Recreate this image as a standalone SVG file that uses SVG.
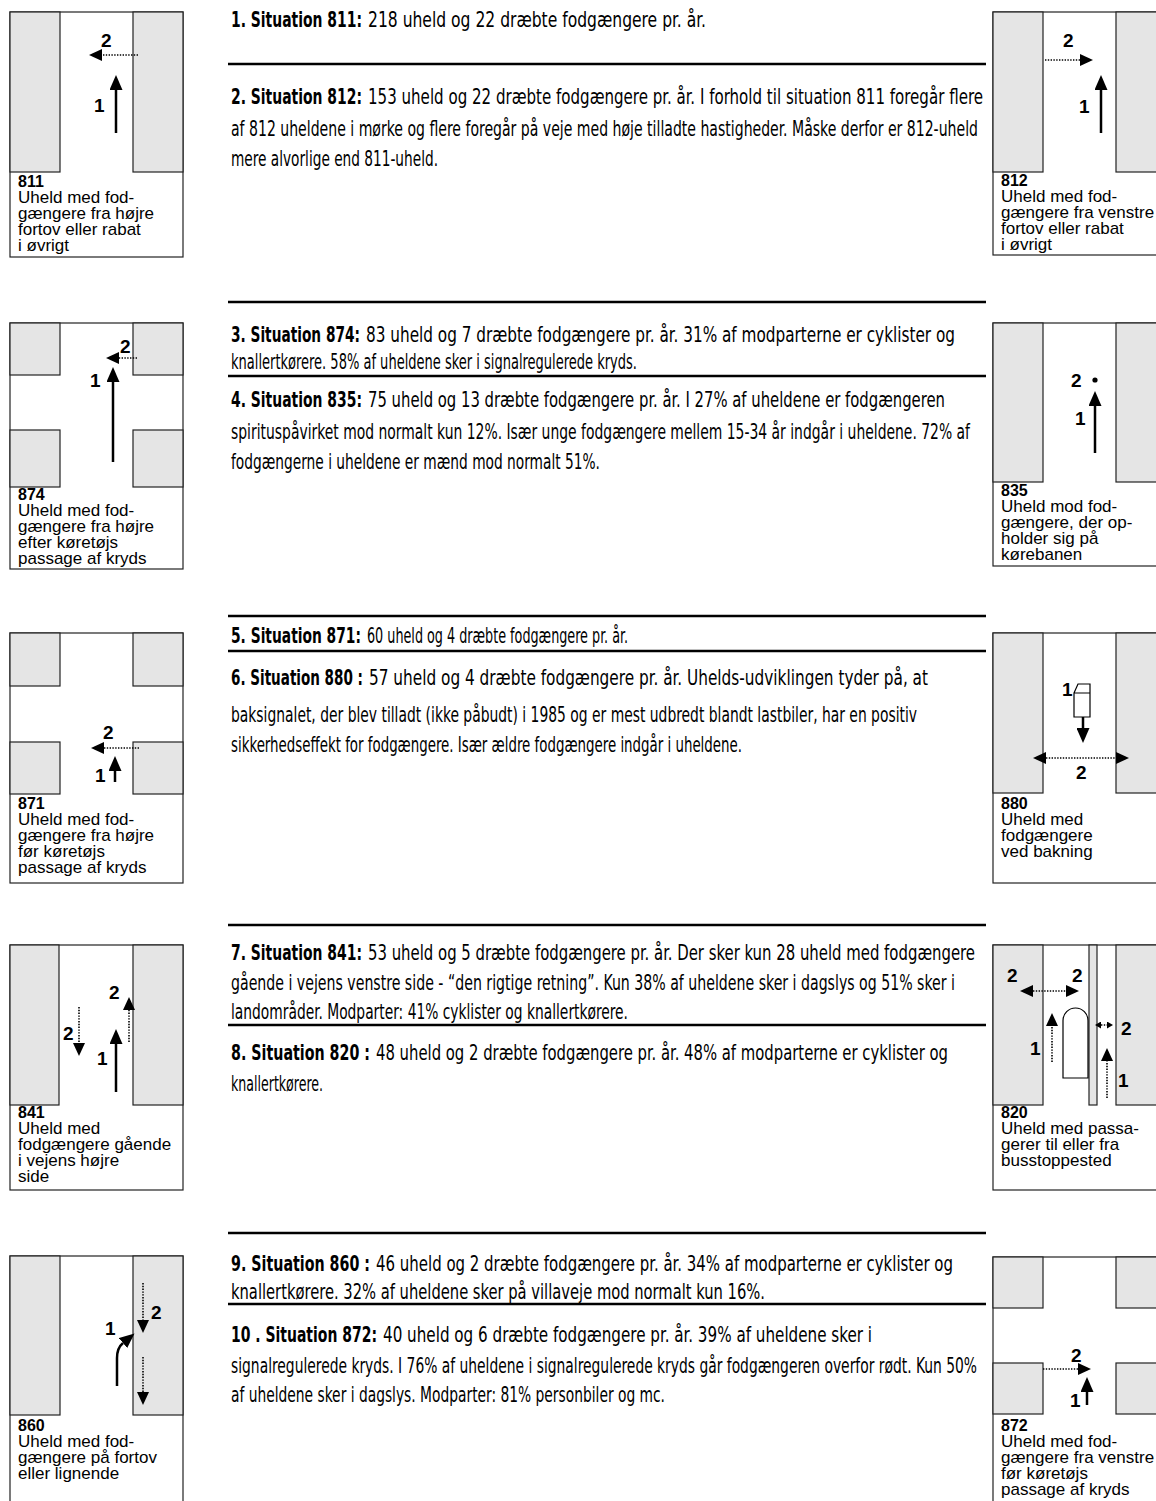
<svg xmlns="http://www.w3.org/2000/svg" width="1156" height="1501" viewBox="0 0 1156 1501">
<style>
.bg{fill:#fff}
.box{fill:#fff;stroke:#222;stroke-width:1.2}
.g{fill:#e5e5e5;stroke:#222;stroke-width:1.2}
.lbl{font-family:"Liberation Sans",Arial,Helvetica,sans-serif;font-size:17px;fill:#000}
.num{font-weight:bold;font-size:16px}
.al{font-family:"Liberation Sans",Arial,Helvetica,sans-serif;font-weight:bold;font-size:19px;fill:#000}
.sol{stroke:#000;stroke-width:2.5;fill:none}
.dot{stroke:#000;stroke-width:1.6;stroke-dasharray:1.4 1.4;fill:none}
.sep{stroke:#000;stroke-width:2.5}
.bt{font-family:"Liberation Sans Narrow","DejaVu Sans Condensed","Liberation Sans",sans-serif;font-size:21px;fill:#000}
.bh{font-weight:bold}
</style>
<defs>
<marker id="hs" markerUnits="userSpaceOnUse" viewBox="0 0 15 13" markerWidth="15" markerHeight="13" refX="0" refY="6.5" orient="auto"><path d="M0,0 L15,6.5 L0,13 Z" fill="#000"/></marker>
<marker id="hd" markerUnits="userSpaceOnUse" viewBox="0 0 13 12" markerWidth="13" markerHeight="12" refX="0" refY="6" orient="auto"><path d="M0,0 L13,6 L0,12 Z" fill="#000"/></marker>
<marker id="hdr" markerUnits="userSpaceOnUse" viewBox="0 0 13 12" markerWidth="13" markerHeight="12" refX="0" refY="6" orient="auto-start-reverse"><path d="M0,0 L13,6 L0,12 Z" fill="#000"/></marker>
<marker id="hsm" markerUnits="userSpaceOnUse" viewBox="0 0 6 7" markerWidth="6" markerHeight="7" refX="0" refY="3.5" orient="auto-start-reverse"><path d="M0,0 L6,3.5 L0,7 Z" fill="#000"/></marker>
</defs>
<rect class="bg" x="0" y="0" width="1156" height="1501"/>

<!-- Left panels -->
<g id="p811">
<rect class="box" x="10" y="12" width="173" height="245"/>
<rect class="g" x="10" y="12" width="50" height="160"/>
<rect class="g" x="133" y="12" width="50" height="160"/>
<path class="sol" d="M116,133 V90" marker-end="url(#hs)"/>
<path class="dot" d="M138,55 H102" marker-end="url(#hd)"/>
<text class="al" x="94" y="112">1</text>
<text class="al" x="101" y="47">2</text>
<text class="lbl"><tspan class="num" x="18" y="187">811</tspan><tspan x="18" y="203">Uheld med fod-</tspan><tspan x="18" y="219">gængere fra højre</tspan><tspan x="18" y="235">fortov eller rabat</tspan><tspan x="18" y="251">i øvrigt</tspan></text>
</g>

<g id="p874">
<rect class="box" x="10" y="323" width="173" height="246"/>
<rect class="g" x="10" y="323" width="50" height="52"/>
<rect class="g" x="133" y="323" width="50" height="52"/>
<rect class="g" x="10" y="430" width="50" height="57"/>
<rect class="g" x="133" y="430" width="50" height="57"/>
<path class="sol" d="M113,462 V382" marker-end="url(#hs)"/>
<path class="dot" d="M137,358 H119" marker-end="url(#hd)"/>
<text class="al" x="90" y="387">1</text>
<text class="al" x="120" y="353">2</text>
<text class="lbl"><tspan class="num" x="18" y="500">874</tspan><tspan x="18" y="516">Uheld med fod-</tspan><tspan x="18" y="532">gængere fra højre</tspan><tspan x="18" y="548">efter køretøjs</tspan><tspan x="18" y="564">passage af kryds</tspan></text>
</g>

<g id="p871">
<rect class="box" x="10" y="633" width="173" height="250"/>
<rect class="g" x="10" y="633" width="50" height="53"/>
<rect class="g" x="133" y="633" width="50" height="53"/>
<rect class="g" x="10" y="742" width="50" height="52"/>
<rect class="g" x="133" y="742" width="50" height="52"/>
<path class="sol" d="M115,782 V771" marker-end="url(#hs)"/>
<path class="dot" d="M139,748 H104" marker-end="url(#hd)"/>
<text class="al" x="95" y="782">1</text>
<text class="al" x="103" y="739">2</text>
<text class="lbl"><tspan class="num" x="18" y="809">871</tspan><tspan x="18" y="825">Uheld med fod-</tspan><tspan x="18" y="841">gængere fra højre</tspan><tspan x="18" y="857">før køretøjs</tspan><tspan x="18" y="873">passage af kryds</tspan></text>
</g>

<g id="p841">
<rect class="box" x="10" y="945" width="173" height="245"/>
<rect class="g" x="10" y="945" width="49" height="160"/>
<rect class="g" x="133" y="945" width="50" height="160"/>
<path class="sol" d="M116,1092 V1044" marker-end="url(#hs)"/>
<path class="dot" d="M79,1007 V1043" marker-end="url(#hd)"/>
<path class="dot" d="M129,1042 V1010" marker-end="url(#hd)"/>
<text class="al" x="97" y="1065">1</text>
<text class="al" x="63" y="1040">2</text>
<text class="al" x="109" y="999">2</text>
<text class="lbl"><tspan class="num" x="18" y="1118">841</tspan><tspan x="18" y="1134">Uheld med</tspan><tspan x="18" y="1150">fodgængere gående</tspan><tspan x="18" y="1166">i vejens højre</tspan><tspan x="18" y="1182">side</tspan></text>
</g>

<g id="p860">
<rect class="box" x="10" y="1256" width="173" height="260"/>
<rect class="g" x="10" y="1256" width="50" height="159"/>
<rect class="g" x="133" y="1256" width="50" height="159"/>
<path class="sol" d="M117,1386 V1358 Q117,1348 123,1343" marker-end="url(#hs)"/>
<path class="dot" d="M143,1283 V1320" marker-end="url(#hd)"/>
<path class="dot" d="M143,1357 V1392" marker-end="url(#hd)"/>
<text class="al" x="105" y="1335">1</text>
<text class="al" x="151" y="1319">2</text>
<text class="lbl"><tspan class="num" x="18" y="1431">860</tspan><tspan x="18" y="1447">Uheld med fod-</tspan><tspan x="18" y="1463">gængere på fortov</tspan><tspan x="18" y="1479">eller lignende</tspan></text>
</g>

<!-- Right panels -->
<g id="p812">
<rect class="box" x="993" y="12" width="180" height="243"/>
<rect class="g" x="993" y="12" width="50" height="160"/>
<rect class="g" x="1116" y="12" width="60" height="160"/>
<path class="sol" d="M1101,133 V90" marker-end="url(#hs)"/>
<path class="dot" d="M1045,60 H1080" marker-end="url(#hd)"/>
<text class="al" x="1079" y="113">1</text>
<text class="al" x="1063" y="47">2</text>
<text class="lbl"><tspan class="num" x="1001" y="186">812</tspan><tspan x="1001" y="202">Uheld med fod-</tspan><tspan x="1001" y="218">gængere fra venstre</tspan><tspan x="1001" y="234">fortov eller rabat</tspan><tspan x="1001" y="250">i øvrigt</tspan></text>
</g>

<g id="p835">
<rect class="box" x="993" y="323" width="180" height="243"/>
<rect class="g" x="993" y="323" width="50" height="159"/>
<rect class="g" x="1116" y="323" width="60" height="159"/>
<path class="sol" d="M1095,453 V406" marker-end="url(#hs)"/>
<circle cx="1095" cy="380" r="2.6" fill="#000"/>
<text class="al" x="1075" y="425">1</text>
<text class="al" x="1071" y="387">2</text>
<text class="lbl"><tspan class="num" x="1001" y="496">835</tspan><tspan x="1001" y="512">Uheld mod fod-</tspan><tspan x="1001" y="528">gængere, der op-</tspan><tspan x="1001" y="544">holder sig på</tspan><tspan x="1001" y="560">kørebanen</tspan></text>
</g>

<g id="p880">
<rect class="box" x="993" y="633" width="180" height="250"/>
<rect class="g" x="993" y="633" width="50" height="160"/>
<rect class="g" x="1116" y="633" width="60" height="160"/>
<path d="M1074,693 L1078,684 H1090 V717 H1074 Z M1074,693 H1090" fill="#fff" stroke="#000" stroke-width="1.2"/>
<path class="sol" d="M1083,717 V728" marker-end="url(#hs)"/>
<path class="dot" d="M1046,758 H1116" marker-start="url(#hdr)" marker-end="url(#hdr)"/>
<text class="al" x="1062" y="696">1</text>
<text class="al" x="1076" y="779">2</text>
<text class="lbl"><tspan class="num" x="1001" y="809">880</tspan><tspan x="1001" y="825">Uheld med</tspan><tspan x="1001" y="841">fodgængere</tspan><tspan x="1001" y="857">ved bakning</tspan></text>
</g>

<g id="p820">
<rect class="box" x="993" y="945" width="180" height="245"/>
<rect class="g" x="993" y="945" width="50" height="160"/>
<rect class="g" x="1089" y="945" width="8" height="160"/>
<rect class="g" x="1116" y="945" width="60" height="160"/>
<path d="M1063,1078 V1020.5 A12.5,12.5 0 0 1 1088,1020.5 V1078 Z" fill="#fff" stroke="#000" stroke-width="1.2"/>
<path class="dot" d="M1033,991 H1066" marker-start="url(#hdr)" marker-end="url(#hdr)"/>
<path class="dot" d="M1052,1062 V1026" marker-end="url(#hd)"/>
<path class="dot" d="M1107,1098 V1061" marker-end="url(#hd)"/>
<path class="dot" d="M1101,1025 H1107" marker-start="url(#hsm)" marker-end="url(#hsm)"/>
<text class="al" x="1007" y="982">2</text>
<text class="al" x="1072" y="982">2</text>
<text class="al" x="1030" y="1055">1</text>
<text class="al" x="1118" y="1087">1</text>
<text class="al" x="1121" y="1035">2</text>
<text class="lbl"><tspan class="num" x="1001" y="1118">820</tspan><tspan x="1001" y="1134">Uheld med passa-</tspan><tspan x="1001" y="1150">gerer til eller fra</tspan><tspan x="1001" y="1166">busstoppested</tspan></text>
</g>

<g id="p872">
<rect class="box" x="993" y="1257" width="180" height="260"/>
<rect class="g" x="993" y="1257" width="50" height="51"/>
<rect class="g" x="1116" y="1257" width="60" height="51"/>
<rect class="g" x="993" y="1363" width="50" height="51"/>
<rect class="g" x="1116" y="1363" width="60" height="51"/>
<path class="dot" d="M1043,1369 H1078" marker-end="url(#hd)"/>
<path class="sol" d="M1087,1405 V1392" marker-end="url(#hs)"/>
<text class="al" x="1071" y="1362">2</text>
<text class="al" x="1070" y="1407">1</text>
<text class="lbl"><tspan class="num" x="1001" y="1431">872</tspan><tspan x="1001" y="1447">Uheld med fod-</tspan><tspan x="1001" y="1463">gængere fra venstre</tspan><tspan x="1001" y="1479">før køretøjs</tspan><tspan x="1001" y="1495">passage af kryds</tspan></text>
</g>

<!-- Separator lines -->
<g id="separators">
<line class="sep" x1="228" y1="64" x2="986" y2="64"/>
<line class="sep" x1="228" y1="302" x2="986" y2="302"/>
<line class="sep" x1="228" y1="376" x2="986" y2="376"/>
<line class="sep" x1="228" y1="616" x2="986" y2="616"/>
<line class="sep" x1="228" y1="651" x2="986" y2="651"/>
<line class="sep" x1="228" y1="925" x2="986" y2="925"/>
<line class="sep" x1="228" y1="1025" x2="986" y2="1025"/>
<line class="sep" x1="228" y1="1233" x2="986" y2="1233"/>
<line class="sep" x1="228" y1="1304" x2="986" y2="1304"/>
</g>

<!-- Body text -->
<g id="s1">
<text class="bt bh" x="231" y="27" textLength="131" lengthAdjust="spacingAndGlyphs">1. Situation 811:</text>
<text class="bt" x="368" y="27" textLength="338" lengthAdjust="spacingAndGlyphs">218 uheld og 22 dræbte fodgængere pr. år.</text>
</g>
<g id="s2">
<text class="bt bh" x="231" y="104" textLength="131" lengthAdjust="spacingAndGlyphs">2. Situation 812:</text>
<text class="bt" x="368" y="104" textLength="615" lengthAdjust="spacingAndGlyphs">153 uheld og 22 dræbte fodgængere pr. år. I forhold til situation 811 foregår flere</text>
<text class="bt" x="231" y="136" textLength="747" lengthAdjust="spacingAndGlyphs">af 812 uheldene i mørke og flere foregår på veje med høje tilladte hastigheder. Måske derfor er 812-uheld</text>
<text class="bt" x="231" y="166" textLength="207" lengthAdjust="spacingAndGlyphs">mere alvorlige end 811-uheld.</text>
</g>
<g id="s3">
<text class="bt bh" x="231" y="342" textLength="129" lengthAdjust="spacingAndGlyphs">3. Situation 874:</text>
<text class="bt" x="366" y="342" textLength="589" lengthAdjust="spacingAndGlyphs">83 uheld og 7 dræbte fodgængere pr. år. 31% af modparterne er cyklister og</text>
<text class="bt" x="231" y="369" textLength="406" lengthAdjust="spacingAndGlyphs">knallertkørere. 58% af uheldene sker i signalregulerede kryds.</text>
</g>
<g id="s4">
<text class="bt bh" x="231" y="407" textLength="131" lengthAdjust="spacingAndGlyphs">4. Situation 835:</text>
<text class="bt" x="368" y="407" textLength="577" lengthAdjust="spacingAndGlyphs">75 uheld og 13 dræbte fodgængere pr. år. I 27% af uheldene er fodgængeren</text>
<text class="bt" x="231" y="439" textLength="739" lengthAdjust="spacingAndGlyphs">spirituspåvirket mod normalt kun 12%. Især unge fodgængere mellem 15-34 år indgår i uheldene. 72% af</text>
<text class="bt" x="231" y="469" textLength="369" lengthAdjust="spacingAndGlyphs">fodgængerne i uheldene er mænd mod normalt 51%.</text>
</g>
<g id="s5">
<text class="bt bh" x="231" y="643" textLength="130" lengthAdjust="spacingAndGlyphs">5. Situation 871:</text>
<text class="bt" x="367" y="643" textLength="261" lengthAdjust="spacingAndGlyphs">60 uheld og 4 dræbte fodgængere pr. år.</text>
</g>
<g id="s6">
<text class="bt bh" x="231" y="685" textLength="132" lengthAdjust="spacingAndGlyphs">6. Situation 880 :</text>
<text class="bt" x="369" y="685" textLength="559" lengthAdjust="spacingAndGlyphs">57 uheld og 4 dræbte fodgængere pr. år. Uhelds-udviklingen tyder på, at</text>
<text class="bt" x="231" y="722" textLength="686" lengthAdjust="spacingAndGlyphs">baksignalet, der blev tilladt (ikke påbudt) i 1985 og er mest udbredt blandt lastbiler, har en positiv</text>
<text class="bt" x="231" y="752" textLength="511" lengthAdjust="spacingAndGlyphs">sikkerhedseffekt for fodgængere. Især ældre fodgængere indgår i uheldene.</text>
</g>
<g id="s7">
<text class="bt bh" x="231" y="960" textLength="131" lengthAdjust="spacingAndGlyphs">7. Situation 841:</text>
<text class="bt" x="368" y="960" textLength="607" lengthAdjust="spacingAndGlyphs">53 uheld og 5 dræbte fodgængere pr. år. Der sker kun 28 uheld med fodgængere</text>
<text class="bt" x="231" y="990" textLength="724" lengthAdjust="spacingAndGlyphs">gående i vejens venstre side - “den rigtige retning”. Kun 38% af uheldene sker i dagslys og 51% sker i</text>
<text class="bt" x="231" y="1019" textLength="397" lengthAdjust="spacingAndGlyphs">landområder. Modparter: 41% cyklister og knallertkørere.</text>
</g>
<g id="s8">
<text class="bt bh" x="231" y="1060" textLength="139" lengthAdjust="spacingAndGlyphs">8. Situation 820 :</text>
<text class="bt" x="376" y="1060" textLength="572" lengthAdjust="spacingAndGlyphs">48 uheld og 2 dræbte fodgængere pr. år. 48% af modparterne er cyklister og</text>
<text class="bt" x="231" y="1091" textLength="92" lengthAdjust="spacingAndGlyphs">knallertkørere.</text>
</g>
<g id="s9">
<text class="bt bh" x="231" y="1271" textLength="139" lengthAdjust="spacingAndGlyphs">9. Situation 860 :</text>
<text class="bt" x="376" y="1271" textLength="577" lengthAdjust="spacingAndGlyphs">46 uheld og 2 dræbte fodgængere pr. år. 34% af modparterne er cyklister og</text>
<text class="bt" x="231" y="1299" textLength="534" lengthAdjust="spacingAndGlyphs">knallertkørere. 32% af uheldene sker på villaveje mod normalt kun 16%.</text>
</g>
<g id="s10">
<text class="bt bh" x="231" y="1342" textLength="146" lengthAdjust="spacingAndGlyphs">10 . Situation 872:</text>
<text class="bt" x="383" y="1342" textLength="489" lengthAdjust="spacingAndGlyphs">40 uheld og 6 dræbte fodgængere pr. år. 39% af uheldene sker i</text>
<text class="bt" x="231" y="1373" textLength="746" lengthAdjust="spacingAndGlyphs">signalregulerede kryds. I 76% af uheldene i signalregulerede kryds går fodgængeren overfor rødt. Kun 50%</text>
<text class="bt" x="231" y="1402" textLength="434" lengthAdjust="spacingAndGlyphs">af uheldene sker i dagslys. Modparter: 81% personbiler og mc.</text>
</g>
</svg>
